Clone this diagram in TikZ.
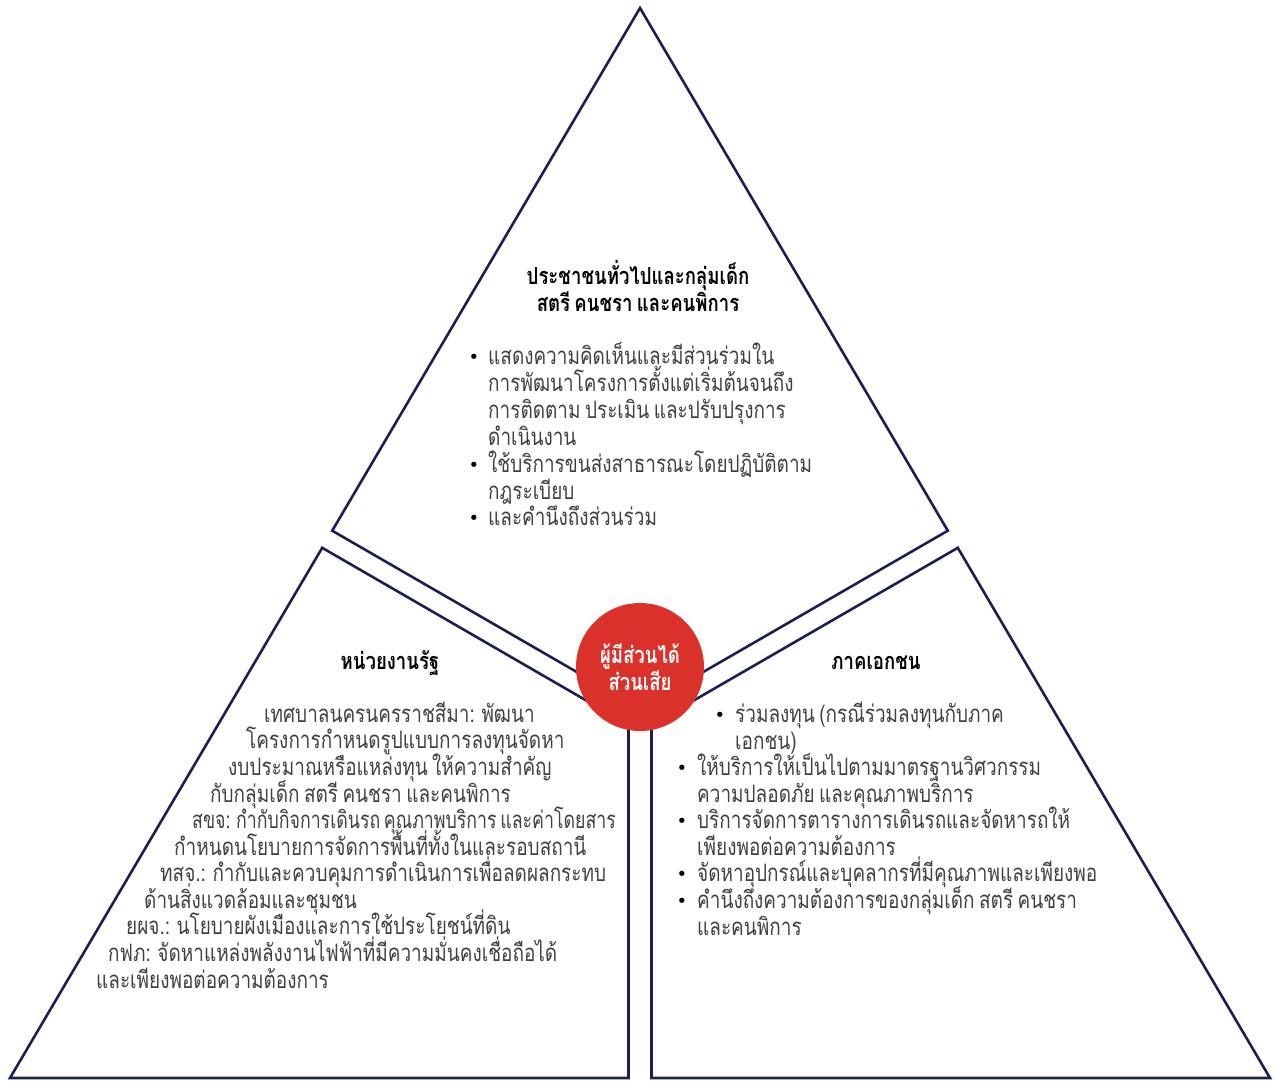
\documentclass[tikz,border=0pt]{standalone}
\usepackage{fontspec}
\newfontfamily\thaifont[Script=Thai, FakeStretch=0.79, WordSpace=0.7]{Loma}
\newfontfamily\thaitight[Script=Thai, FakeStretch=0.74, WordSpace=0.6]{Loma}
\newfontfamily\symfont{DejaVu Sans}
\definecolor{navy}{RGB}{27,32,80}
\definecolor{stakered}{RGB}{218,50,42}
\definecolor{bodygray}{RGB}{64,64,64}

\begin{document}
\begin{tikzpicture}[x=1pt,y=-1pt,
  edge/.style={draw=navy, line width=2.6pt, line join=miter},
  body/.style={anchor=base west, inner sep=0pt, text=bodygray,
    font=\thaifont\fontsize{24}{27}\selectfont},
  tightbody/.style={body, font=\thaitight\fontsize{24}{27}\selectfont},
  head/.style={anchor=base, inner sep=0pt, text=black,
    font=\thaifont\bfseries\fontsize{23.5}{27}\selectfont},
  bul/.style={anchor=base, inner sep=0pt, text=black,
    font=\symfont\fontsize{18}{18}\selectfont}
]
\useasboundingbox (0,0) rectangle (1274,1080);

% corners of the three sectors
\coordinate (apex) at (640,8);
\coordinate (tl) at (332.2,530.7);
\coordinate (tr) at (947.8,530.7);
\coordinate (tc) at (640,708.5);
\coordinate (ll) at (322.2,547.8);
\coordinate (lb) at (10,1078);
\coordinate (lm) at (628.5,1078);
\coordinate (lc) at (628.5,724.9);
\coordinate (rr) at (957.8,547.8);
\coordinate (rb) at (1270,1078);
\coordinate (rm) at (651.5,1078);
\coordinate (rc) at (651.5,724.9);

\draw[edge] (apex) -- (tr) -- (tc) -- (tl) -- cycle;
\draw[edge] (ll) -- (lb) -- (lm) -- (lc) -- cycle;
\draw[edge] (rr) -- (rb) -- (rm) -- (rc) -- cycle;

% centre disc
\node[circle, fill=stakered, minimum size=128pt, inner sep=0pt, text=white,
  align=center, font=\thaifont\bfseries\fontsize{23.5}{27}\selectfont]
  (hub) at (640,667) {ผู้มีส่วนได้\\ส่วนเสีย};

% top sector
\node[head] (t1) at (638,284) {ประชาชนทั่วไปและกลุ่มเด็ก};
\node[head] (t2) at (638,311) {สตรี คนชรา และคนพิการ};
\node[bul] (tb1) at (474,363) {•};
\node[body] (ta1) at (488,364) {แสดงความคิดเห็นและมีส่วนร่วมใน};
\node[body] (ta2) at (488,391) {การพัฒนาโครงการตั้งแต่เริ่มต้นจนถึง};
\node[body] (ta3) at (488,418) {การติดตาม ประเมิน และปรับปรุงการ};
\node[body] (ta4) at (488,445) {ดำเนินงาน};
\node[bul] (tb2) at (474,471) {•};
\node[body] (ta5) at (488,472) {ใช้บริการขนส่งสาธารณะโดยปฏิบัติตาม};
\node[body] (ta6) at (488,499) {กฎระเบียบ};
\node[bul] (tb3) at (474,524) {•};
\node[body] (ta7) at (488,525) {และคำนึงถึงส่วนร่วม};

% left sector
\node[head] (l0) at (390,669) {หน่วยงานรัฐ};
\node[body] (l1) at (264,722) {เทศบาลนครนครราชสีมา: พัฒนา};
\node[body] (l2) at (246,748) {โครงการกำหนดรูปแบบการลงทุนจัดหา};
\node[body] (l3) at (228,775) {งบประมาณหรือแหล่งทุน ให้ความสำคัญ};
\node[body] (l4) at (210,802) {กับกลุ่มเด็ก สตรี คนชรา และคนพิการ};
\node[tightbody] (l5) at (192,828) {สขจ: กำกับกิจการเดินรถ คุณภาพบริการ และค่าโดยสาร};
\node[body] (l6) at (174,855) {กำหนดนโยบายการจัดการพื้นที่ทั้งในและรอบสถานี};
\node[body] (l7) at (160,881) {ทสจ.: กำกับและควบคุมการดำเนินการเพื่อลดผลกระทบ};
\node[body] (l8) at (144,908) {ด้านสิ่งแวดล้อมและชุมชน};
\node[body] (l9) at (126,934) {ยผจ.: นโยบายผังเมืองและการใช้ประโยชน์ที่ดิน};
\node[body] (l10) at (108,961) {กฟภ: จัดหาแหล่งพลังงานไฟฟ้าที่มีความมั่นคงเชื่อถือได้};
\node[body] (l11) at (96,988) {และเพียงพอต่อความต้องการ};

% right sector
\node[head] (r0) at (876,669) {ภาคเอกชน};
\node[bul] (rb1) at (720,721) {•};
\node[body] (r1) at (735,722) {ร่วมลงทุน (กรณีร่วมลงทุนกับภาค};
\node[body] (r2) at (735,749) {เอกชน)};
\node[bul] (rb2) at (682,774) {•};
\node[body] (r3) at (697,775) {ให้บริการให้เป็นไปตามมาตรฐานวิศวกรรม};
\node[body] (r4) at (697,802) {ความปลอดภัย และคุณภาพบริการ};
\node[bul] (rb3) at (682,827) {•};
\node[body] (r5) at (697,828) {บริการจัดการตารางการเดินรถและจัดหารถให้};
\node[body] (r6) at (697,855) {เพียงพอต่อความต้องการ};
\node[bul] (rb4) at (682,880) {•};
\node[body] (r7) at (697,881) {จัดหาอุปกรณ์และบุคลากรที่มีคุณภาพและเพียงพอ};
\node[bul] (rb5) at (682,907) {•};
\node[body] (r8) at (697,908) {คำนึงถึงความต้องการของกลุ่มเด็ก สตรี คนชรา};
\node[body] (r9) at (697,935) {และคนพิการ};
\end{tikzpicture}
\end{document}
